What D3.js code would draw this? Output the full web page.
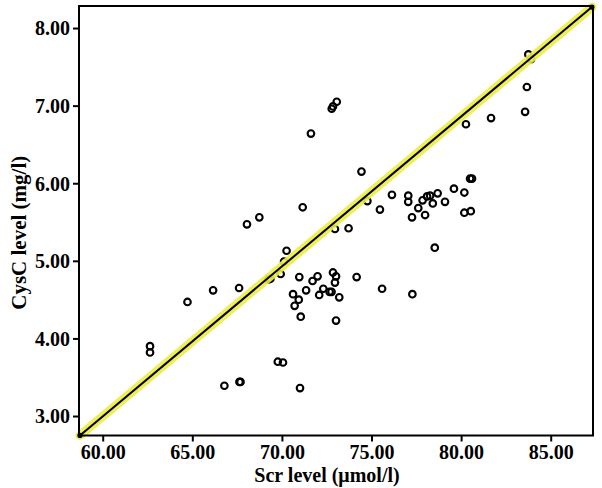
<!DOCTYPE html>
<html>
<head>
<meta charset="utf-8">
<script src="https://cdn.jsdelivr.net/npm/d3@7"></script>
<style>
  body { margin: 0; background: #fff; }
  svg text { font-family: "Liberation Serif", "Times New Roman", serif; font-weight: bold; fill: #000; }
</style>
</head>
<body>
<div id="chart"></div>
<script>
// Scr (x) and CysC (y) values
const scr = [62.64, 62.64, 64.73, 66.16, 67.61, 66.79, 67.63, 67.69, 68.05, 68.74,
  69.25, 69.36, 69.93, 70.12, 70.26, 69.77, 70.06, 70.62, 70.94, 70.71,
  70.97, 71.05, 71.01, 71.16, 71.35, 71.62, 71.71, 71.99, 72.08, 72.31,
  72.66, 72.77, 72.85, 73.02, 72.96, 73.20, 73.02, 72.78, 72.85, 73.06,
  72.96, 73.72, 74.17, 74.44, 74.77, 75.47, 75.59, 76.14, 77.05, 77.05,
  77.26, 77.28, 77.61, 77.85, 77.99, 78.10, 78.27, 78.42, 78.53, 78.69,
  79.10, 79.60, 80.18, 80.18, 80.54, 80.50, 80.61, 80.27, 81.67, 83.57,
  83.67, 83.75, 83.90];
const cysc = [3.90, 3.82, 4.47, 4.62, 4.65, 3.39, 3.44, 3.44, 5.47, 5.56,
  4.76, 4.77, 4.83, 4.99, 5.13, 3.70, 3.69, 4.57, 4.50, 4.42,
  4.79, 4.28, 3.36, 5.69, 4.62, 6.64, 4.74, 4.80, 4.56, 4.64,
  4.60, 4.60, 4.85, 4.80, 4.72, 4.53, 4.23, 6.96, 6.99, 7.05,
  5.41, 5.42, 4.79, 6.15, 5.77, 5.66, 4.64, 5.85, 5.84, 5.76,
  5.56, 4.57, 5.68, 5.78, 5.59, 5.83, 5.84, 5.74, 5.17, 5.87,
  5.76, 5.93, 5.88, 5.62, 5.64, 6.06, 6.06, 6.76, 6.84, 6.92,
  7.24, 7.66, 7.60];

// reference line end points
const lineX = [58.73, 87.30];
const lineY = [2.75, 8.27];

const xTicks = [60, 65, 70, 75, 80, 85];
const yTicks = [3, 4, 5, 6, 7, 8];

const xTitle = "Scr level (\u03bcmol/l)";
const yTitle = "CysC level (mg/l)";

draw();

function draw () {
  const width = 602;
  const height = 488;
  const left = 79, right = 593, top = 6, bottom = 435.5;

  const svg = d3.select("#chart").append("svg")
    .attr("width", width)
    .attr("height", height);

  const x = d3.scaleLinear()
    .domain([58.677, 87.36])
    .range([left, right]);

  const y = d3.scaleLinear()
    .domain([2.749, 8.284])
    .range([bottom, top]);

  const data = scr.map((d, i) => ({scr: d, cysc: cysc[i]}));

  // points
  svg.append("g").selectAll("circle")
    .data(data)
    .enter().append("circle")
      .attr("cx", d => x(d.scr))
      .attr("cy", d => y(d.cysc))
      .attr("r", 3.3)
      .attr("fill", "none")
      .attr("stroke", "#000")
      .attr("stroke-width", 2.1);

  // reference line with yellow halo
  const linePts = lineX.map((d, i) => [x(d), y(lineY[i])]);
  const line = d3.line();
  svg.append("path")
    .attr("d", line(linePts))
    .attr("fill", "none")
    .attr("stroke", "#ecec46")
    .attr("stroke-opacity", 0.9)
    .attr("stroke-width", 9)
    .attr("stroke-linecap", "round");
  svg.append("path")
    .attr("d", line(linePts))
    .attr("fill", "none")
    .attr("stroke", "#000")
    .attr("stroke-width", 2);
  svg.append("g").selectAll("circle")
    .data(linePts)
    .enter().append("circle")
      .attr("cx", d => d[0])
      .attr("cy", d => d[1])
      .attr("r", 2.6)
      .attr("fill", "#000");

  // frame
  svg.append("rect")
    .attr("x", left).attr("y", top)
    .attr("width", right - left).attr("height", bottom - top)
    .attr("fill", "none")
    .attr("stroke", "#000")
    .attr("stroke-width", 2);

  // axes
  const xAxis = svg.append("g")
    .attr("transform", `translate(0,${bottom})`)
    .call(d3.axisBottom(x).tickValues(xTicks).tickFormat(d3.format(".2f")).tickSize(6).tickPadding(3));
  const yAxis = svg.append("g")
    .attr("transform", `translate(${left},0)`)
    .call(d3.axisLeft(y).tickValues(yTicks).tickFormat(d3.format(".2f")).tickSize(6).tickPadding(3));

  for (let ax of [xAxis, yAxis]) {
    ax.select(".domain").remove();
    ax.selectAll(".tick line").attr("stroke", "#000").attr("stroke-width", 2);
    ax.selectAll(".tick text").attr("font-size", 20).attr("font-family", null);
  }
  yAxis.selectAll(".tick text").attr("dy", "0.34em");

  // titles
  svg.append("text")
    .attr("x", 327)
    .attr("y", 482)
    .attr("text-anchor", "middle")
    .attr("font-size", 20)
    .text(xTitle);
  svg.append("text")
    .attr("transform", `translate(26,${(top + bottom) / 2 + 12}) rotate(-90)`)
    .attr("text-anchor", "middle")
    .attr("font-size", 21)
    .text(yTitle);
}
</script>
</body>
</html>
